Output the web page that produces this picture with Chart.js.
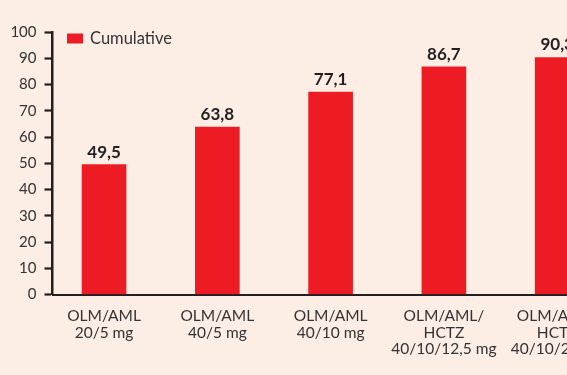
<!DOCTYPE html>
<html>
<head>
<meta charset="utf-8">
<script src="https://cdn.jsdelivr.net/npm/chart.js@4"></script>
<style>
  html, body { margin: 0; padding: 0; background: #fdeee5; overflow: hidden; }
  #wrap { width: 620px; height: 375px; position: relative; }
</style>
</head>
<body>
<div id="wrap"><canvas id="c" width="620" height="375"></canvas></div>
<script>
const categories = [
  ["OLM/AML", "20/5 mg"],
  ["OLM/AML", "40/5 mg"],
  ["OLM/AML", "40/10 mg"],
  ["OLM/AML/", "HCTZ", "40/10/12,5 mg"],
  ["OLM/AML/", "HCTZ", "40/10/25 mg"]
];
const seriesName = "Cumulative";
const cumulative = [49.5, 63.8, 77.1, 86.7, 90.3];
const yTicks = [0, 10, 20, 30, 40, 50, 60, 70, 80, 90, 100];

const RED = "#ed1c24";
const DARK = "#231f20";
const TXT = "#333333";
const FONT = "Lato";

const valueLabels = {
  id: "valueLabels",
  afterDatasetsDraw(chart) {
    const ctx = chart.ctx;
    const meta = chart.getDatasetMeta(0);
    ctx.save();
    ctx.font = "bold 17px " + FONT;
    ctx.fillStyle = DARK;
    ctx.textAlign = "center";
    ctx.textBaseline = "alphabetic";
    meta.data.forEach((bar, i) => {
      const v = chart.data.datasets[0].data[i].y;
      ctx.fillText(v.toFixed(1).replace(".", ","), bar.x, bar.y - 7);
    });
    ctx.restore();
  }
};

const innerLegend = {
  id: "innerLegend",
  afterDraw(chart) {
    const ctx = chart.ctx;
    const a = chart.chartArea;
    const ds = chart.data.datasets[0];
    ctx.save();
    ctx.fillStyle = ds.backgroundColor;
    ctx.fillRect(a.left + 14.5, a.top + 1.5, 16, 10);
    ctx.font = "16.5px " + FONT;
    ctx.fillStyle = TXT;
    ctx.textAlign = "left";
    ctx.textBaseline = "middle";
    ctx.fillText(ds.label, a.left + 37.5, a.top + 6.5);
    ctx.restore();
  }
};

new Chart(document.getElementById("c"), {
  type: "bar",
  data: {
    datasets: [{
      label: seriesName,
      data: cumulative.map((v, i) => ({ x: i, y: v })),
      backgroundColor: RED,
      borderWidth: 0,
      barThickness: 44
    }]
  },
  options: {
    responsive: false,
    maintainAspectRatio: false,
    animation: false,
    layout: { padding: { top: 32, right: 9, left: 0, bottom: 0 } },
    plugins: { legend: { display: false }, tooltip: { enabled: false } },
    scales: {
      x: {
        type: "linear",
        offset: false,
        min: -0.455,
        max: 4.475,
        afterBuildTicks: s => { s.ticks = categories.map((_, i) => ({ value: i })); },
        afterFit: s => { s.height = 80.5; },
        grid: { display: false, offset: false },
        border: { display: true, color: DARK, width: 2 },
        ticks: {
          autoSkip: false,
          maxRotation: 0,
          padding: 5,
          color: TXT,
          font: { family: FONT, size: 15.5, lineHeight: 1.08 },
          callback: v => categories[v]
        }
      },
      y: {
        min: 0,
        max: 100,
        afterBuildTicks: s => { s.ticks = yTicks.map(v => ({ value: v })); },
        afterFit: s => { s.width = 52.5; },
        grid: { display: true, drawOnChartArea: false, drawTicks: true, tickLength: 8, tickWidth: 2.2, tickColor: DARK },
        border: { display: true, color: DARK, width: 2.5 },
        ticks: {
          padding: 8,
          color: TXT,
          font: { family: FONT, size: 15 }
        }
      }
    }
  },
  plugins: [valueLabels, innerLegend]
});
</script>
</body>
</html>
